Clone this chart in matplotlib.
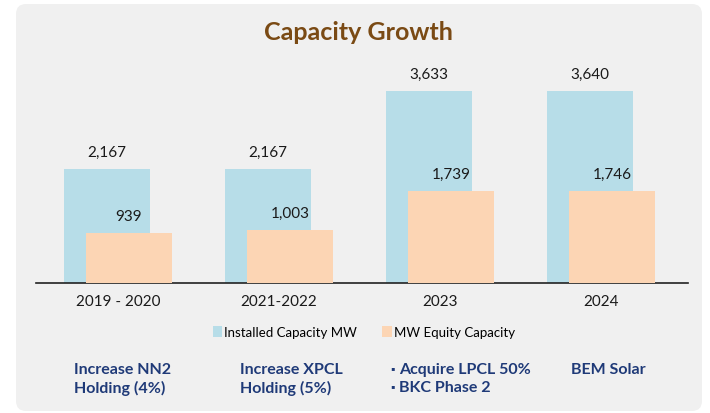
import matplotlib
matplotlib.use("Agg")
import matplotlib.pyplot as plt
from matplotlib.patches import FancyBboxPatch, Patch
from matplotlib.transforms import IdentityTransform

# Data
periods = ["2019 - 2020", "2021-2022", "2023", "2024"]
installed_mw = [2167, 2167, 3633, 3640]
equity_mw = [939, 1003, 1739, 1746]
notes = [
    ["Increase NN2", "Holding (4%)"],
    ["Increase XPCL", "Holding (5%)"],
    ["Acquire LPCL 50%", "BKC Phase 2"],
    ["BEM Solar"],
]
bulleted = [False, False, True, False]

BLUE = "#b7dde8"
ORANGE = "#fcd5b4"
BROWN = "#7a4a14"
NAVY = "#1f3a78"
CARD = "#f0f0f0"

plt.rcParams["font.family"] = ["Lato", "DejaVu Sans"]

W, H = 710, 414
fig = plt.figure(figsize=(W / 100, H / 100), dpi=100)
fig.patch.set_facecolor("white")

# rounded grey card behind everything (pixel coords)
card = FancyBboxPatch((16, 2), 686, 407, boxstyle="round,pad=0,rounding_size=10",
                      transform=IdentityTransform(), facecolor=CARD, edgecolor="none",
                      zorder=-10)
fig.patches.append(card)

def px(x, y):
    # pixel from top-left -> figure fraction
    return x / W, 1 - y / H

# axes: baseline at y=284px, x from 36 to 688px
step = 161.0
x0, x1 = 36, 688
base, top = 284, 73
ax = fig.add_axes([x0 / W, (H - base) / H, (x1 - x0) / W, (base - top) / H])
ax.set_facecolor("none")
ax.set_xlim((x0 - 118) / step, (x1 - 118) / step)
ax.set_ylim(0, 4000)

bw = 86 / step
off = 11 / step
xs = list(range(len(periods)))
b1 = ax.bar([x - off for x in xs], installed_mw, width=bw, color=BLUE, zorder=2)
b2 = ax.bar([x + off for x in xs], equity_mw, width=bw, color=ORANGE, zorder=3)

for bars, vals in ((b1, installed_mw), (b2, equity_mw)):
    for r, v in zip(bars, vals):
        ax.annotate(f"{v:,}", xy=(r.get_x() + r.get_width() / 2, v),
                    xytext=(0, 17), textcoords="offset pixels",
                    ha="center", va="center", fontsize=11, color="#1a1a1a", zorder=5)

for x, lab in zip(xs, periods):
    ax.annotate(lab, xy=(x, 0), xytext=(0, -18), textcoords="offset pixels",
                ha="center", va="center", fontsize=11, color="#1a1a1a")

for s in ("top", "right", "left"):
    ax.spines[s].set_visible(False)
ax.spines["bottom"].set_color("#222222")
ax.spines["bottom"].set_linewidth(1.2)
ax.set_xticks([])
ax.set_yticks([])

fig.text(*px(358, 32), "Capacity Growth", ha="center", va="center",
         fontsize=18, fontweight="bold", color=BROWN)

handles = [Patch(facecolor=BLUE, edgecolor="none", label="Installed Capacity MW"),
           Patch(facecolor=ORANGE, edgecolor="none", label="MW Equity Capacity")]
fig.legend(handles=handles, loc="center", bbox_to_anchor=px(364, 333), ncol=2,
           frameon=False, fontsize=9.5, handlelength=0.7, handleheight=0.9,
           handletextpad=0.2, columnspacing=1.9)

note_x = [74, 240, 399, 571]
for nx, lines, bul in zip(note_x, notes, bulleted):
    for k, line in enumerate(lines):
        fig.text(*px(nx, 370 + 18 * k), line, ha="left", va="center",
                 fontsize=11.5, fontweight="bold", color=NAVY)
        if bul:
            fig.text(*px(nx - 9, 369 + 18 * k), "\u25aa", ha="left", va="center",
                     fontsize=8, color=NAVY)

fig.savefig("out.png", dpi=100)
